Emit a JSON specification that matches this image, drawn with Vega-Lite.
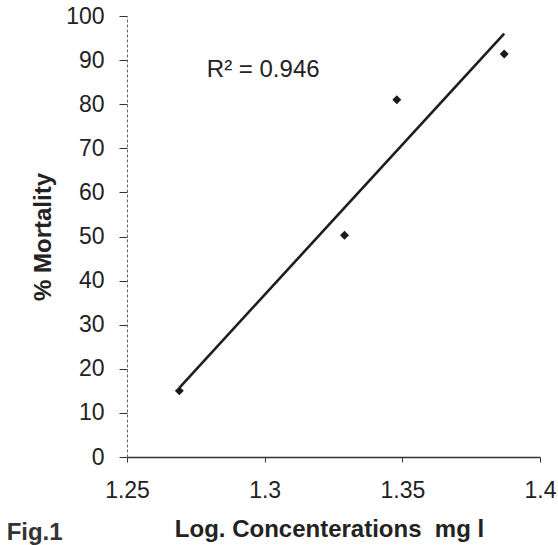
{
  "$schema": "https://vega.github.io/schema/vega-lite/v6.json",
  "width": 413,
  "height": 441,
  "autosize": {"type": "none"},
  "padding": {"left": 127, "top": 16, "right": 18, "bottom": 88},
  "background": "white",
  "config": {
    "view": {"stroke": null},
    "font": "Liberation Sans",
    "axis": {"grid": false, "labelColor": "#222", "titleColor": "#222", "tickColor": "#333", "domainColor": "#333"}
  },
  "title": {
    "text": "Fig.1",
    "orient": "bottom",
    "anchor": "start",
    "frame": "bounds",
    "fontSize": 24,
    "fontWeight": "bold",
    "color": "#333",
    "dx": -25,
    "offset": -20
  },
  "layer": [
    {
      "data": {"values": [
        {"conc": 1.269, "mortality": 15.7},
        {"conc": 1.387, "mortality": 96.0}
      ]},
      "mark": {"type": "line", "color": "#1e1e1e", "strokeWidth": 2.6},
      "encoding": {
        "x": {
          "field": "conc", "type": "quantitative",
          "scale": {"domain": [1.25, 1.4], "nice": false, "zero": false},
          "axis": {
            "values": [1.25, 1.3, 1.35, 1.4],
            "format": "~g",
            "title": "Log. Concenterations\u00a0 mg l",
            "titleFontSize": 24,
            "titleFontWeight": "bold",
            "titlePadding": 15,
            "titleX": 202,
            "labelFontSize": 23,
            "labelPadding": 17,
            "labelFlush": false,
            "tickSize": 5,
            "domainWidth": 1.5
          }
        },
        "y": {
          "field": "mortality", "type": "quantitative",
          "scale": {"domain": [0, 100], "nice": false},
          "axis": {
            "values": [0, 10, 20, 30, 40, 50, 60, 70, 80, 90, 100],
            "title": "% Mortality",
            "titleFontSize": 24,
            "titleFontWeight": "bold",
            "titlePadding": 10,
            "labelFontSize": 23,
            "labelPadding": 15,
            "tickSize": 8,
            "domainDash": [3, 2],
            "domainColor": "#666"
          }
        }
      }
    },
    {
      "data": {"values": [
        {"conc": 1.269, "mortality": 15},
        {"conc": 1.329, "mortality": 50.3},
        {"conc": 1.348, "mortality": 81},
        {"conc": 1.387, "mortality": 91.4}
      ]},
      "mark": {"type": "point", "shape": "diamond", "filled": true, "size": 80, "color": "#1a1a1a", "opacity": 1},
      "encoding": {
        "x": {"field": "conc", "type": "quantitative"},
        "y": {"field": "mortality", "type": "quantitative"}
      }
    },
    {
      "data": {"values": [{"conc": 1.279, "mortality": 87.8, "label": "R² = 0.946"}]},
      "mark": {"type": "text", "align": "left", "baseline": "middle", "fontSize": 24, "color": "#222"},
      "encoding": {
        "x": {"field": "conc", "type": "quantitative"},
        "y": {"field": "mortality", "type": "quantitative"},
        "text": {"field": "label"}
      }
    }
  ]
}
